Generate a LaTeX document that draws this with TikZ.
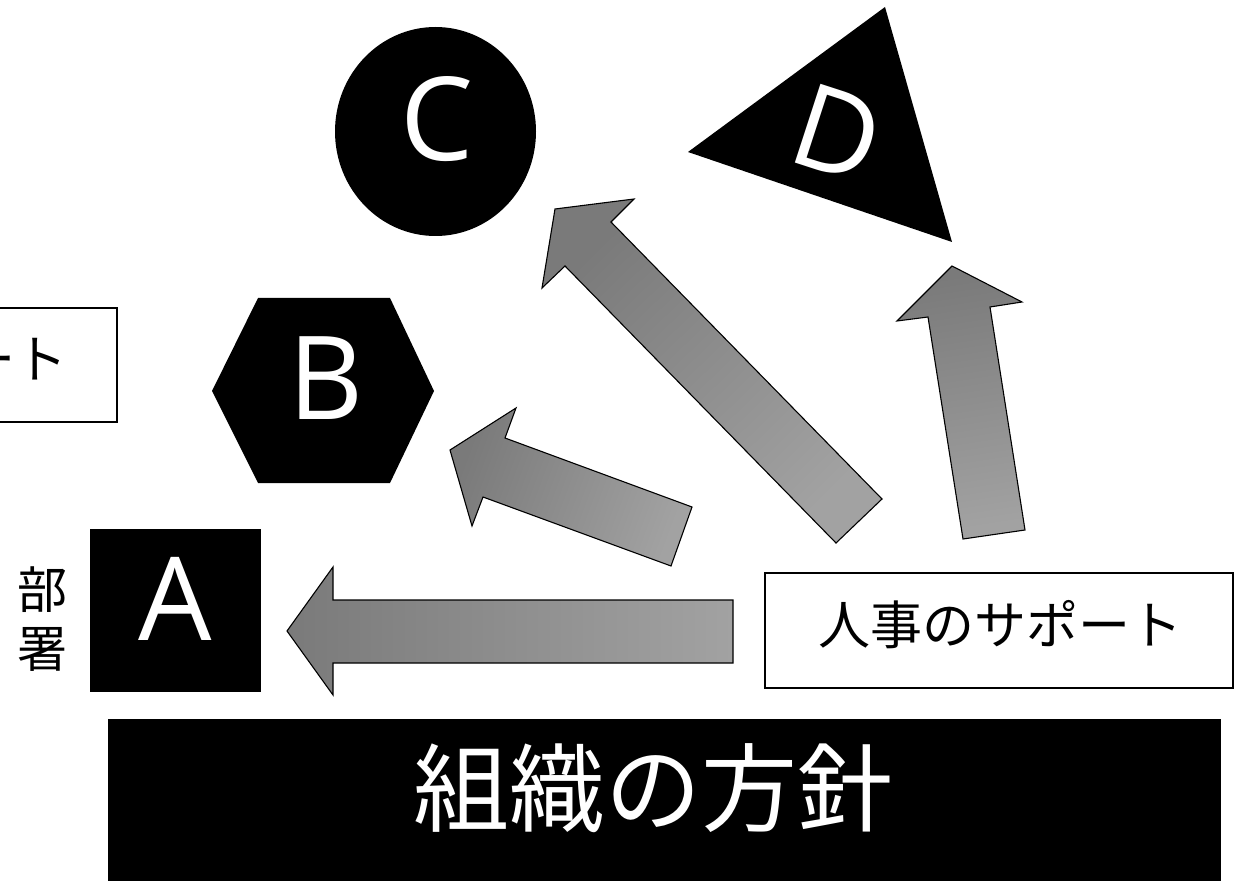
\documentclass[tikz,border=0pt]{standalone}
\usepackage{fontspec}
\setmainfont{Open Sans}
\newfontfamily\jp{Noto Sans CJK JP}
\definecolor{arrowdark}{RGB}{122,122,122}
\definecolor{arrowlight}{RGB}{162,162,162}
\begin{document}
\begin{tikzpicture}[x=1pt,y=-1pt,
  solid shape/.style={fill=black},
  blockarrow/.style={draw=black, line width=1.1pt, line join=miter,
    top color=arrowlight, bottom color=arrowdark},
  lettr/.style={text=white, font=\fontsize{116}{120}\selectfont, inner sep=0pt},
  jptext/.style={font=\jp\fontsize{52}{52}\selectfont, inner sep=0pt},
  hrframe/.style={draw=black, line width=1.5pt, fill=white}]
\useasboundingbox (0,0) rectangle (1243,885);
\clip (0,0) rectangle (1243,885);
\fill[white] (0,0) rectangle (1243,885);

% left clipped box
\draw[hrframe] (-20,308) rectangle (117,422);
\node[jptext, anchor=east] (hrleft) at (68,359.5) {ート};

% shapes
\fill[solid shape] (90,529) rectangle (261,692);
\fill[solid shape] (212,391) -- (258,298) -- (390,298) -- (434,391) -- (390,483) -- (258,483) -- cycle;
\fill[solid shape] (435.5,131.5) ellipse [x radius=100.5, y radius=104.5];
\fill[solid shape] (885,7) -- (688,152) -- (952,242) -- cycle;
\fill[solid shape] (108,719) rectangle (1221,881);

% letters
\node[lettr, anchor=base] (la) at (175.5,640) {A};
\node[lettr, anchor=base] (lb) at (326,419) {B};
\node[lettr, anchor=base] (lc) at (437,161) {C};
\node[lettr, rotate=-18] (ld) at (838,133) {D};

% block arrows
\path[blockarrow, shading angle=270]
  (287,631) -- (333,567) -- (333,600) -- (733,600) -- (733,663) -- (333,663) -- (333,695) -- cycle;
\path[blockarrow, shading angle=249.7]
  (450,450) -- (516,408) -- (505,438) -- (692,507) -- (671,566) -- (483,497) -- (472,526) -- cycle;
\path[blockarrow, shading angle=224.4]
  (555,209) -- (634,199) -- (611,222) -- (882,499) -- (836,543) -- (565,266) -- (542,288) -- cycle;
\path[blockarrow, shading angle=188.9]
  (952,266) -- (1022,302) -- (990,307) -- (1025,530) -- (963,539) -- (928,317) -- (897,321) -- cycle;

% labels
\node[hrframe, minimum width=468, minimum height=115, inner sep=0pt] (hrbox) at (999,630.5) {};
\node[jptext] (hrtext) at (1000,624.5) {人事のサポート};
\node[font=\jp\fontsize{50}{59}\selectfont, align=center, inner sep=0pt] (busho) at (42,619) {部\\署};
\node[font=\jp\fontsize{96}{96}\selectfont, text=white, inner sep=0pt] (hoshin) at (653,788) {組織の方針};
\end{tikzpicture}
\end{document}
